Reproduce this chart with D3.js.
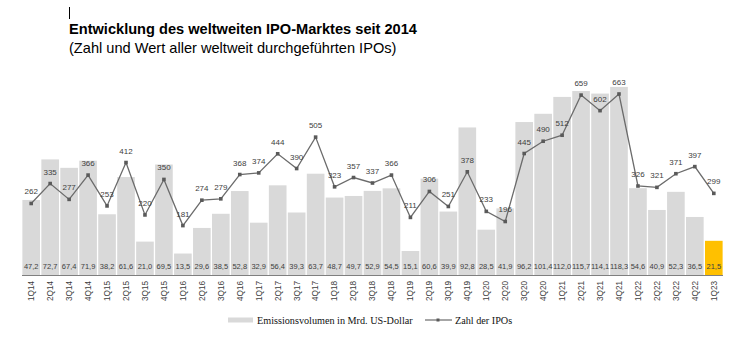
<!DOCTYPE html>
<html>
<head>
<meta charset="utf-8">
<script src="https://cdn.jsdelivr.net/npm/d3@7"></script>
<style>
  html, body { margin: 0; padding: 0; background: #fff; }
  svg { display: block; }
</style>
</head>
<body>
<div id="chart"></div>
<script>
// Quarters 1Q14 – 1Q23
const quarters = [
  "1Q14","2Q14","3Q14","4Q14","1Q15","2Q15","3Q15","4Q15",
  "1Q16","2Q16","3Q16","4Q16","1Q17","2Q17","3Q17","4Q17",
  "1Q18","2Q18","3Q18","4Q18","1Q19","2Q19","3Q19","4Q19",
  "1Q20","2Q20","3Q20","4Q20","1Q21","2Q21","3Q21","4Q21",
  "1Q22","2Q22","3Q22","4Q22","1Q23"
];
// Emission volume, bn US dollars
const volume = [
  47.2, 72.7, 67.4, 71.9, 38.2, 61.6, 21.0, 69.5,
  13.5, 29.6, 38.5, 52.8, 32.9, 56.4, 39.3, 63.7,
  48.7, 49.7, 52.9, 54.5, 15.1, 60.6, 39.9, 92.8,
  28.5, 41.9, 96.2, 101.4, 112.0, 115.7, 114.1, 118.3,
  54.6, 40.9, 52.3, 36.5, 21.5
];
// Number of IPOs
const ipoCount = [
  262, 335, 277, 366, 253, 412, 220, 350,
  181, 274, 279, 368, 374, 444, 390, 505,
  323, 357, 337, 366, 211, 306, 251, 378,
  233, 196, 445, 490, 512, 659, 602, 663,
  326, 321, 371, 397, 299
];
const titleText = "Entwicklung des weltweiten IPO-Marktes seit 2014";
const subtitleText = "(Zahl und Wert aller weltweit durchgeführten IPOs)";
const legendLabels = ["Emissionsvolumen in Mrd. US-Dollar", "Zahl der IPOs"];

const W = 755, H = 342;
const baseY = 275;
const fmt = v => v.toFixed(1).replace(".", ",");
const sans = "Liberation Sans, Arial, sans-serif";

const svg = d3.select("#chart").append("svg")
  .attr("width", W).attr("height", H);

// Title block with the small marker stroke above it
svg.append("line")
  .attr("x1", 69.5).attr("x2", 69.5).attr("y1", 7).attr("y2", 19)
  .attr("stroke", "#000").attr("stroke-width", 1);
svg.append("text")
  .attr("x", 69).attr("y", 34)
  .attr("font-family", sans)
  .attr("font-size", 14.6).attr("font-weight", "bold").attr("fill", "#000")
  .text(titleText);
svg.append("text")
  .attr("x", 69).attr("y", 53)
  .attr("font-family", sans)
  .attr("font-size", 14.6).attr("fill", "#000")
  .text(subtitleText);

// Scales
const x = d3.scaleBand().domain(quarters).range([22, 723]).paddingInner(0.07).paddingOuter(0.02);
const yBar = d3.scaleLinear().domain([0, 140]).range([baseY, baseY - 222.6]);
const yLine = d3.scaleLinear().domain([0, 800]).range([baseY, baseY - 218.4]);

// Bars
svg.append("g").selectAll("rect")
  .data(quarters)
  .join("rect")
  .attr("x", d => x(d))
  .attr("width", x.bandwidth())
  .attr("y", (d, i) => yBar(volume[i]))
  .attr("height", (d, i) => baseY - yBar(volume[i]))
  .attr("fill", (d, i) => i === quarters.length - 1 ? "#FFC000" : "#D9D9D9");

// Bar value labels
svg.append("g").selectAll("text")
  .data(quarters)
  .join("text")
  .attr("x", d => x(d) + x.bandwidth() / 2)
  .attr("y", 269)
  .attr("text-anchor", "middle")
  .attr("font-family", sans)
  .attr("font-size", 7.5)
  .attr("fill", "#404040")
  .text((d, i) => fmt(volume[i]));

// X axis
const xAxis = svg.append("g").attr("transform", `translate(0,${baseY})`)
  .call(d3.axisBottom(x).tickSize(0).tickPadding(0));
xAxis.select(".domain").attr("stroke", "#7f7f7f").attr("stroke-width", 1.2)
  .attr("d", `M${x.range()[0]},0.5H${x.range()[1]}`);
xAxis.selectAll(".tick text")
  .attr("font-family", sans)
  .attr("font-size", 8.2)
  .attr("fill", "#404040")
  .attr("text-anchor", "end")
  .attr("dy", "0.35em")
  .attr("transform", "translate(0,6) rotate(-90)")
  .attr("x", 0).attr("y", 0);

// IPO count line
const line = d3.line()
  .x((d, i) => x(quarters[i]) + x.bandwidth() / 2)
  .y(d => yLine(d));
svg.append("path")
  .datum(ipoCount)
  .attr("d", line)
  .attr("fill", "none")
  .attr("stroke", "#6b6b6b")
  .attr("stroke-width", 1.3);
svg.append("g").selectAll("rect")
  .data(ipoCount)
  .join("rect")
  .attr("x", (d, i) => x(quarters[i]) + x.bandwidth() / 2 - 1.8)
  .attr("y", d => yLine(d) - 1.8)
  .attr("width", 3.6).attr("height", 3.6)
  .attr("fill", "#5a5a5a");
svg.append("g").selectAll("text")
  .data(ipoCount)
  .join("text")
  .attr("x", (d, i) => x(quarters[i]) + x.bandwidth() / 2)
  .attr("y", d => yLine(d) - 9)
  .attr("text-anchor", "middle")
  .attr("font-family", sans)
  .attr("font-size", 8)
  .attr("fill", "#404040")
  .text(d => d);

// Legend
const lg = svg.append("g").attr("font-family", "Liberation Serif, Times New Roman, serif")
  .attr("font-size", 10.2).attr("fill", "#111");
lg.append("rect").attr("x", 228).attr("y", 317.5).attr("width", 25).attr("height", 5).attr("fill", "#D9D9D9");
lg.append("text").attr("x", 257).attr("y", 323.5).text(legendLabels[0]);
lg.append("line").attr("x1", 425).attr("x2", 452).attr("y1", 320).attr("y2", 320)
  .attr("stroke", "#6b6b6b").attr("stroke-width", 1.2);
lg.append("rect").attr("x", 436.5).attr("y", 318.5).attr("width", 3).attr("height", 3).attr("fill", "#5a5a5a");
lg.append("text").attr("x", 455).attr("y", 323.5).text(legendLabels[1]);
</script>
</body>
</html>
